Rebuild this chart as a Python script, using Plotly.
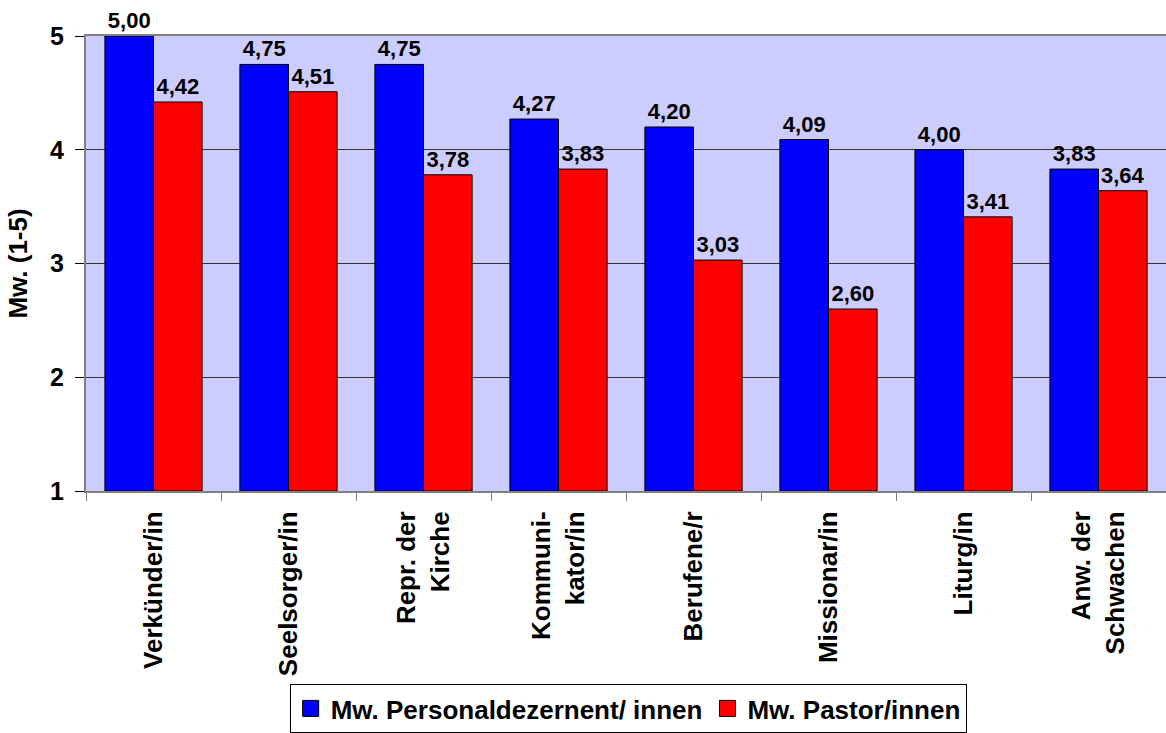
import plotly.graph_objects as go

categories = [
    "Verkünder/in",
    "Seelsorger/in",
    "Repr. der<br>Kirche",
    "Kommuni-<br>kator/in",
    "Berufene/r",
    "Missionar/in",
    "Liturg/in",
    "Anw. der<br>Schwachen",
]
personal = [5.00, 4.75, 4.75, 4.27, 4.20, 4.09, 4.00, 3.83]
pastor = [4.42, 4.51, 3.78, 3.83, 3.03, 2.60, 3.41, 3.64]
series_names = ["Mw. Personaldezernent/ innen", "Mw. Pastor/innen"]
series_colors = ["#0000FF", "#FF0000"]
y_ticks = [1, 2, 3, 4, 5]
Y_FLOOR = 1

FONT = "Liberation Sans, Arial, sans-serif"

fig = go.Figure()

# bars start at the axis floor of 1, so heights are value - 1
for name, vals, col in zip(series_names, [personal, pastor], series_colors):
    fig.add_trace(go.Bar(
        x=categories, y=[v - Y_FLOOR for v in vals], base=Y_FLOOR, name=name,
        showlegend=False,
        marker=dict(color=col, line=dict(color="black", width=1)),
        text=[f"{v:.2f}".replace(".", ",") for v in vals],
        textposition="outside",
        textfont=dict(family=FONT, size=22, color="black", weight="bold"),
        cliponaxis=False,
    ))

# legend entries with larger square swatches
for name, col in zip(series_names, series_colors):
    fig.add_trace(go.Scatter(
        x=[None], y=[None], mode="markers", name=name,
        marker=dict(symbol="square", size=18, color=col,
                    line=dict(color="black", width=1)),
    ))

fig.update_layout(
    width=1166, height=733,
    margin=dict(l=86, r=0, t=36, b=242),
    paper_bgcolor="white",
    plot_bgcolor="#CCCCFF",
    barmode="group",
    bargap=0.28,
    bargroupgap=0,
    font=dict(family=FONT, color="black"),
    showlegend=True,
    legend=dict(
        orientation="h",
        x=0.502, xanchor="center",
        y=-0.532, yanchor="bottom",
        bordercolor="black", borderwidth=1,
        bgcolor="white",
        font=dict(family=FONT, size=26, color="black", weight="bold"),
        itemwidth=30,
        tracegroupgap=0,
    ),
)

fig.update_xaxes(
    type="category",
    range=[-0.5, len(categories) - 0.5],
    tickangle=-90,
    tickson="boundaries",
    ticks="outside", ticklen=8, tickcolor="#808080",
    ticklabelstandoff=8,
    showline=True, linecolor="#808080", linewidth=2,
    mirror=True,
    showgrid=False,
    tickfont=dict(family=FONT, size=26, color="black", weight="bold"),
)

fig.update_yaxes(
    range=[1, 5],
    tickvals=y_ticks,
    ticktext=[str(t) for t in y_ticks],
    ticks="outside", ticklen=9, tickcolor="black",
    ticklabelstandoff=6,
    showline=True, linecolor="#808080", linewidth=2,
    showgrid=True, gridcolor="#333333", gridwidth=1,
    zeroline=False,
    tickfont=dict(family=FONT, size=25, color="black", weight="bold"),
    title=dict(text="Mw. (1-5)", standoff=15,
               font=dict(family=FONT, size=26, color="black", weight="bold")),
)

fig.write_html("out.html")
